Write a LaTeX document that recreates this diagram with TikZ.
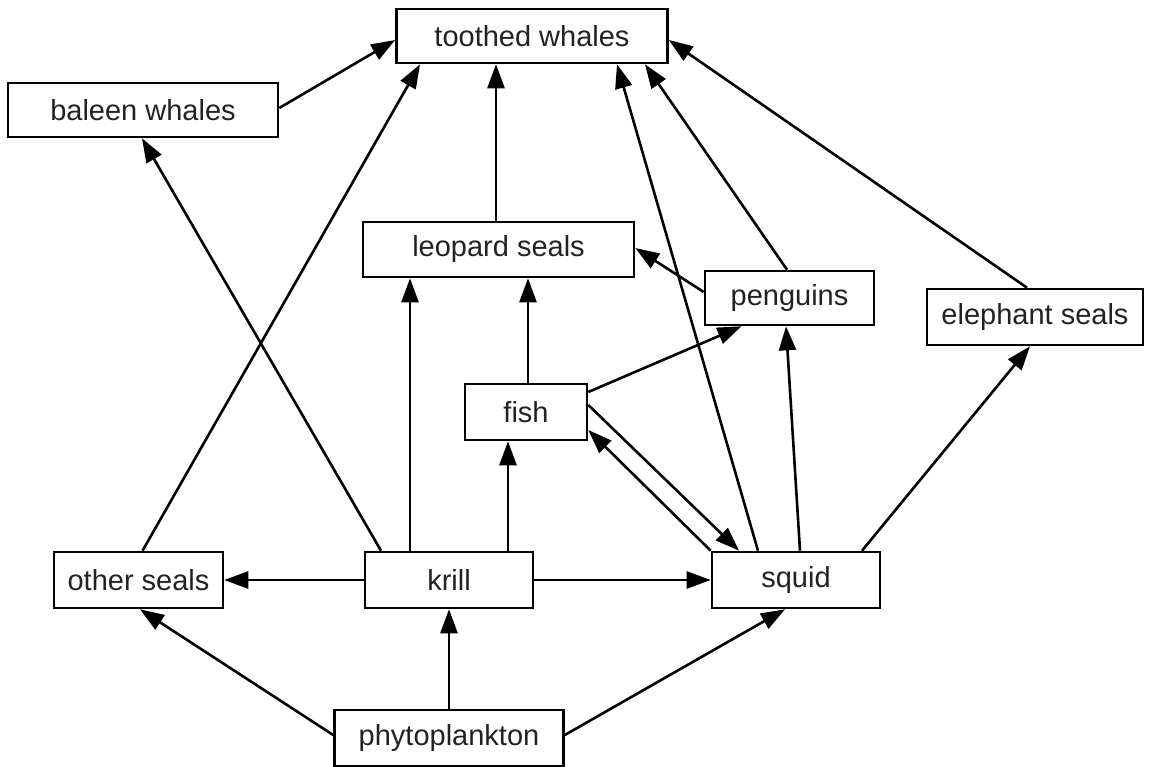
\documentclass[tikz,border=0pt]{standalone}
\usepackage{fontspec}
\setmainfont{Liberation Sans}
\usetikzlibrary{arrows.meta}
\definecolor{txt}{HTML}{222222}
\tikzset{
  box/.style={draw, line width=2.6pt, inner sep=0pt, minimum height=55pt, align=center, text=txt, font=\fontsize{29}{34}\selectfont},
  link/.style={line width=2.6pt, -{Triangle[length=24pt,width=17pt]}},
}
\begin{document}
\begin{tikzpicture}[x=1pt,y=-1pt]
\useasboundingbox (0,0) rectangle (1149,767);
\node[box, minimum width=271pt, minimum height=54pt] (tw) at (532,36) {toothed whales};
\node[box, minimum width=270pt, minimum height=54pt] (bw) at (143,110) {baleen whales};
\node[box, minimum width=271pt] (ls) at (498.5,249.5) {leopard seals};
\node[box, minimum width=169pt, minimum height=54pt] (pg) at (789.5,298) {penguins};
\node[box, minimum width=216pt, minimum height=56pt] (es) at (1035,317) {elephant seals};
\node[box, minimum width=122pt, minimum height=56pt] (fish) at (526,412) {fish};
\node[box, minimum width=169pt, minimum height=56pt] (os) at (138.5,580) {other seals};
\node[box, minimum width=168pt, minimum height=56pt] (kr) at (449,580) {krill};
\node[box, minimum width=168pt, minimum height=56pt] (sq) at (796,580) {squid};
\node[box, minimum width=229pt, minimum height=56pt] (ph) at (449,738) {phytoplankton};

\draw[link] ([yshift=2pt]bw.east) -- ([yshift=-4pt]tw.west);
\draw[link] ([xshift=4pt]os.north) -- ([xshift=-112pt]tw.south);
\draw[link] ([xshift=-2.5pt]ls.north) -- ([xshift=-36pt]tw.south);
\draw[link] ([xshift=-38pt]sq.north) -- ([xshift=85pt]tw.south);
\draw[link] ([xshift=-2.5pt]pg.north) -- ([xshift=113pt]tw.south);
\draw[link] ([xshift=-8pt]es.north) -- ([yshift=-4pt]tw.east);
\draw[link] ([xshift=-68pt]kr.north) -- ([xshift=-1pt]bw.south);
\draw[link] ([xshift=-39pt]kr.north) -- ([xshift=-88.5pt]ls.south);
\draw[link] ([xshift=2pt]fish.north) -- ([xshift=29.5pt]ls.south);
\draw[link] ([yshift=6pt]pg.west) -- ([yshift=1.5pt]ls.east);
\draw[link] ([yshift=20pt]fish.east) -- ([xshift=-48pt]pg.south);
\draw[link] ([xshift=4pt]sq.north) -- ([xshift=-3.5pt]pg.south);
\draw[link] ([xshift=66pt]sq.north) -- ([xshift=-5pt]es.south);
\draw[link] ([yshift=7pt]fish.east) -- ([xshift=-57pt]sq.north);
\draw[link] (sq.north west) -- ([yshift=-18pt]fish.east);
\draw[link] ([xshift=59pt]kr.north) -- ([xshift=-18pt]fish.south);
\draw[link] (kr.west) -- (os.east);
\draw[link] (kr.east) -- (sq.west);
\draw[link] ([yshift=3pt]ph.west) -- ([xshift=1.5pt]os.south);
\draw[link] (ph.north) -- (kr.south);
\draw[link] ([yshift=3pt]ph.east) -- ([xshift=-11pt]sq.south);
\end{tikzpicture}
\end{document}
